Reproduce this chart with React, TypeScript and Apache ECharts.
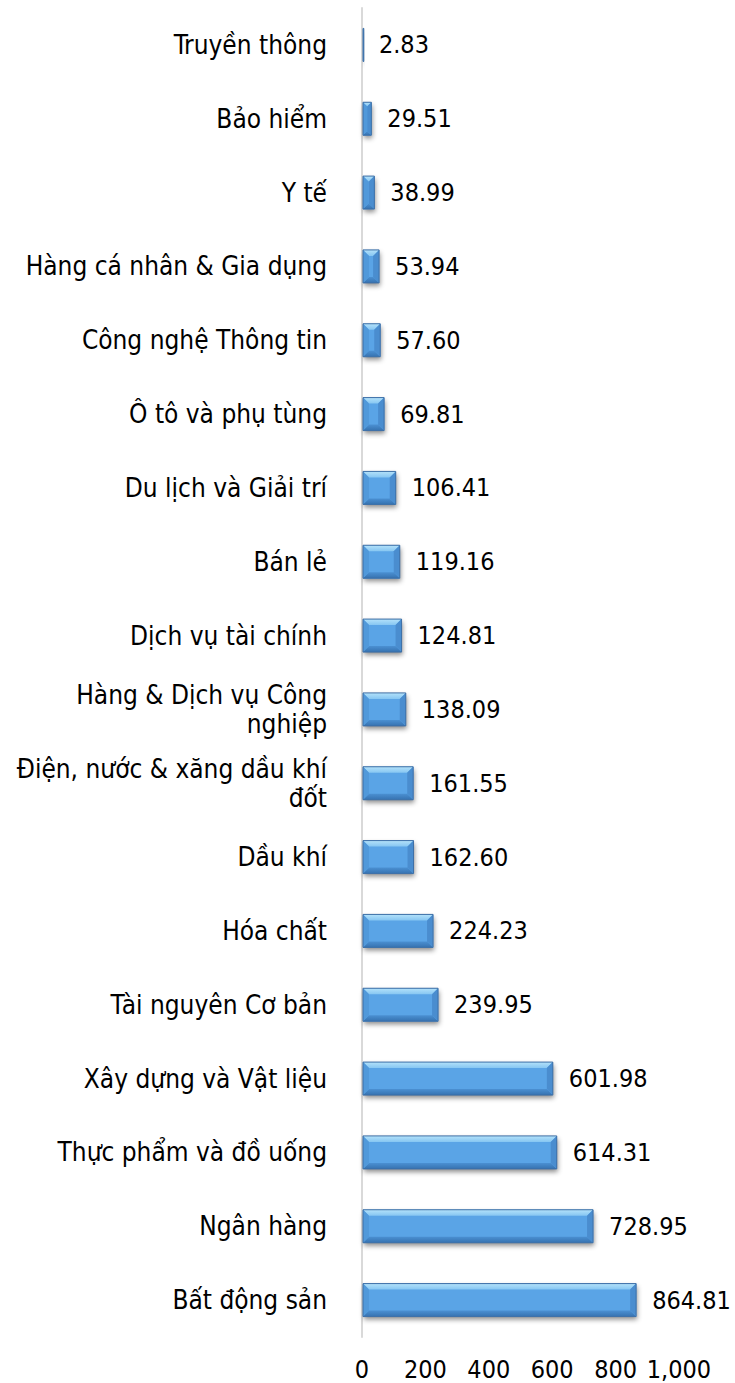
import React, { useEffect, useRef } from "react";
import * as echarts from "echarts";

const categories = [
  "Truyền thông",
  "Bảo hiểm",
  "Y tế",
  "Hàng cá nhân & Gia dụng",
  "Công nghệ Thông tin",
  "Ô tô và phụ tùng",
  "Du lịch và Giải trí",
  "Bán lẻ",
  "Dịch vụ tài chính",
  "Hàng & Dịch vụ Công\nnghiệp",
  "Điện, nước & xăng dầu khí\nđốt",
  "Dầu khí",
  "Hóa chất",
  "Tài nguyên Cơ bản",
  "Xây dựng và Vật liệu",
  "Thực phẩm và đồ uống",
  "Ngân hàng",
  "Bất động sản",
];

const values = [
  2.83, 29.51, 38.99, 53.94, 57.6, 69.81, 106.41, 119.16, 124.81, 138.09,
  161.55, 162.6, 224.23, 239.95, 601.98, 614.31, 728.95, 864.81,
];

const xTicks = { min: 0, max: 1000, interval: 200 };

const FONT = "'DejaVu Sans Condensed', 'DejaVu Sans', sans-serif";

function renderBevelBar(params: any, api: any) {
  const idx = api.value(0);
  const val = api.value(1);
  const start = api.coord([0, idx]);
  const end = api.coord([val, idx]);
  const bandH = api.size([0, 1])[1];
  const h = Math.round(bandH * 0.45);
  const x0 = start[0] + 1;
  const x1 = end[0];
  const y0 = start[1] - h / 2;
  const y1 = start[1] + h / 2;
  const w = Math.max(x1 - x0, 0.8);
  const b = Math.min(6, w / 2);
  const xe = x0 + w;
  return {
    type: "group",
    children: [
      {
        type: "rect",
        shape: { x: x0, y: y0, width: w, height: h },
        style: {
          fill: "#5aa4e6",
          shadowColor: "rgba(0,0,0,0.45)",
          shadowBlur: 5,
          shadowOffsetX: 1,
          shadowOffsetY: 3,
        },
      },
      {
        type: "polygon",
        shape: {
          points: [
            [x0, y0],
            [xe, y0],
            [xe - b, y0 + b],
            [x0 + b, y0 + b],
          ],
        },
        style: {
          fill: new echarts.graphic.LinearGradient(0, 0, 0, 1, [
            { offset: 0, color: "#b4e2fa" },
            { offset: 1, color: "#86c6f2" },
          ]),
        },
      },
      {
        type: "polygon",
        shape: {
          points: [
            [x0, y1],
            [xe, y1],
            [xe - b, y1 - b],
            [x0 + b, y1 - b],
          ],
        },
        style: {
          fill: new echarts.graphic.LinearGradient(0, 0, 0, 1, [
            { offset: 0, color: "#4b90d2" },
            { offset: 1, color: "#3672b0" },
          ]),
        },
      },
      {
        type: "polygon",
        shape: {
          points: [
            [xe, y0],
            [xe, y1],
            [xe - b, y1 - b],
            [xe - b, y0 + b],
          ],
        },
        style: { fill: "#4a8dcf" },
      },
      {
        type: "polygon",
        shape: {
          points: [
            [x0, y0],
            [x0, y1],
            [x0 + b, y1 - b],
            [x0 + b, y0 + b],
          ],
        },
        style: { fill: "#5199da" },
      },
      {
        type: "rect",
        shape: { x: x0, y: y0, width: w, height: h },
        style: { fill: "none", stroke: "#3d6fa6", lineWidth: 1 },
      },
    ],
  };
}

export default function App() {
  const ref = useRef<HTMLDivElement>(null);
  useEffect(() => {
    document.body.style.margin = "0";
    const chart = echarts.init(ref.current!, null, { renderer: "svg" });
    chart.setOption({
      animation: false,
      backgroundColor: "#ffffff",
      grid: { left: 362, right: 56, top: 8, bottom: 46, containLabel: false },
      xAxis: {
        type: "value",
        min: xTicks.min,
        max: xTicks.max,
        interval: xTicks.interval,
        axisLine: { show: false },
        axisTick: { show: false },
        splitLine: { show: false },
        axisLabel: {
          margin: 20,
          color: "#000",
          fontFamily: FONT,
          fontSize: 25,
          formatter: (v: number) => v.toLocaleString("en-US"),
        },
      },
      yAxis: {
        type: "category",
        data: categories,
        inverse: true,
        axisLine: { show: true, lineStyle: { color: "#d9d9d9", width: 2 } },
        axisTick: { show: false },
        axisLabel: {
          margin: 35,
          color: "#000",
          fontFamily: FONT,
          fontSize: 26,
          lineHeight: 29,
          align: "right",
        },
      },
      series: [
        {
          type: "custom",
          renderItem: renderBevelBar,
          encode: { x: 1, y: 0 },
          data: values.map((v, i) => [i, v]),
          z: 2,
        },
        {
          type: "bar",
          data: values,
          barWidth: 33,
          itemStyle: { color: "rgba(0,0,0,0)" },
          z: 3,
          label: {
            show: true,
            position: "right",
            distance: 16,
            color: "#000",
            fontFamily: FONT,
            fontSize: 25,
            formatter: (p: any) => p.value.toFixed(2),
          },
        },
      ],
    });
    return () => chart.dispose();
  }, []);
  return <div ref={ref} style={{ width: 735, height: 1383 }} />;
}
